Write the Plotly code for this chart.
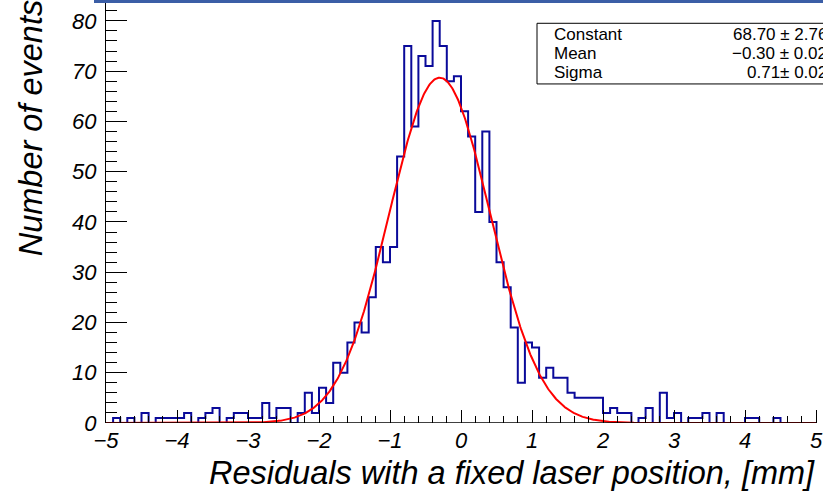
import numpy as np
import plotly.graph_objects as go

# ---- data ----
bin_low = -5.0
bin_high = 5.0
n_bins = 100
counts = [
    0, 1, 0, 1, 0, 2, 0, 1, 1, 1,      # -5.0 .. -4.1
    1, 2, 0, 1, 2, 3, 0, 1, 2, 2,      # -4.0 .. -3.1
    1, 1, 4, 1, 3, 3, 0, 2, 6, 2,      # -3.0 .. -2.1
    7, 4, 12, 10, 16, 20, 18, 25, 35, 32,   # -2.0 .. -1.1
    35, 53, 75, 59, 73, 71, 80, 75, 68, 69,  # -1.0 .. -0.1
    62, 57, 42, 58, 40, 32, 27, 19, 8, 16,   # 0.0 .. 0.9
    15, 9, 11, 9, 9, 6, 5, 5, 5, 5,          # 1.0 .. 1.9
    2, 3, 2, 2, 0, 1, 3, 0, 6, 1,            # 2.0 .. 2.9
    2, 0, 1, 1, 2, 0, 2, 0, 0, 0,            # 3.0 .. 3.9
    1, 1, 0, 0, 1, 0, 0, 0, 0, 0,            # 4.0 .. 4.9
]
fit_constant = 68.70
fit_mean = -0.30
fit_sigma = 0.71
stats_labels = ["Constant", "Mean", "Sigma"]
stats_values = ["68.70 \u00b1 2.76", "\u22120.30 \u00b1 0.02", "0.71\u00b1 0.02"]
x_title = "Residuals with a fixed laser position, [mm]"
y_title = "Number of events"

# ---- geometry (pixels) ----
W, H = 823, 496
left, bottom_px = 106, 423.3
top_px = 0
plot_h = bottom_px - top_px
px_per_unit_y = 5.03
y_max = plot_h / px_per_unit_y
px_per_unit_x = 71.0
x_max = bin_low + (W - left) / px_per_unit_x

edges = np.linspace(bin_low, bin_high, n_bins + 1)
hx = list(edges)
hy = list(counts) + [counts[-1]]

xf = np.linspace(bin_low, bin_high, 1000)
yf = fit_constant * np.exp(-0.5 * ((xf - fit_mean) / fit_sigma) ** 2)

FONT = "Liberation Sans, Arial, Helvetica, sans-serif"

fig = go.Figure()
fig.add_trace(go.Scatter(x=hx, y=hy, mode="lines", line=dict(shape="hv", color="#0a0a9a", width=2),
                         hoverinfo="skip", showlegend=False))
fig.add_trace(go.Scatter(x=xf, y=yf, mode="lines", line=dict(color="#ff0000", width=2),
                         hoverinfo="skip", showlegend=False))

fig.update_layout(
    width=W, height=H,
    margin=dict(l=left, r=0, t=top_px, b=H - bottom_px),
    paper_bgcolor="white", plot_bgcolor="white",
    showlegend=False,
    font=dict(family=FONT, color="black"),
)
fig.update_xaxes(
    range=[bin_low, x_max], showgrid=False, zeroline=False, showline=False,
    tickmode="linear", tick0=-5, dtick=1,
    ticks="inside", ticklen=13, tickwidth=1, tickcolor="black",
    minor=dict(ticks="inside", ticklen=7, dtick=0.2, tick0=-5, tickcolor="black", showgrid=False),
    tickfont=dict(family=FONT, size=22, style="italic", color="black"),
    ticklabelstandoff=2,
)
fig.update_yaxes(
    range=[0, y_max], showgrid=False, zeroline=False, showline=True, linecolor="black", linewidth=1,
    tickmode="linear", tick0=0, dtick=10,
    ticks="inside", ticklen=21, tickwidth=1, tickcolor="black",
    minor=dict(ticks="inside", ticklen=11, dtick=2, tick0=0, tickcolor="black", showgrid=False),
    tickfont=dict(family=FONT, size=22, style="italic", color="black"),
    ticklabelstandoff=4,
)

shapes = []
# x axis line from -5 to 5
shapes.append(dict(type="line", xref="x", yref="y", x0=bin_low, x1=bin_high, y0=0, y1=0,
                   line=dict(color="black", width=1.5)))
# top blue frame bar
shapes.append(dict(type="rect", xref="paper", yref="paper",
                   x0=(94 - left) / (W - left), x1=1.0, y0=1 - 3 / plot_h, y1=1.0,
                   fillcolor="#3b5ea6", line=dict(width=0)))
# stats box
bx0 = (537 - left) / (W - left)
shapes.append(dict(type="rect", xref="paper", yref="paper",
                   x0=bx0, x1=1.05, y0=(bottom_px - 84) / plot_h, y1=(bottom_px - 23.3) / plot_h,
                   fillcolor="white", line=dict(color="black", width=1)))
fig.update_layout(shapes=shapes)

ann = []
row_y = [35, 54, 73]
for lab, val, ry in zip(stats_labels, stats_values, row_y):
    yp = (bottom_px - ry) / plot_h
    ann.append(dict(text=lab, xref="paper", yref="paper", x=(552 - left) / (W - left), y=yp,
                    xanchor="left", yanchor="middle", showarrow=False,
                    font=dict(family=FONT, size=17, color="black")))
    ann.append(dict(text=val, xref="paper", yref="paper", x=(829 - left) / (W - left), y=yp,
                    xanchor="right", yanchor="middle", showarrow=False,
                    font=dict(family=FONT, size=17, color="black")))
# axis titles
ann.append(dict(text=x_title, xref="paper", yref="paper", x=(817 - left) / (W - left),
                y=(bottom_px - 473) / plot_h, xanchor="right", yanchor="middle", showarrow=False,
                font=dict(family=FONT, size=32.5, style="italic", color="black")))
ann.append(dict(text=y_title, xref="paper", yref="paper", x=(31 - left) / (W - left),
                y=(bottom_px - 259) / plot_h, xanchor="center", yanchor="bottom", textangle=-90,
                showarrow=False,
                font=dict(family=FONT, size=32.5, style="italic", color="black")))
fig.update_layout(annotations=ann)

fig.write_html("out.html")
